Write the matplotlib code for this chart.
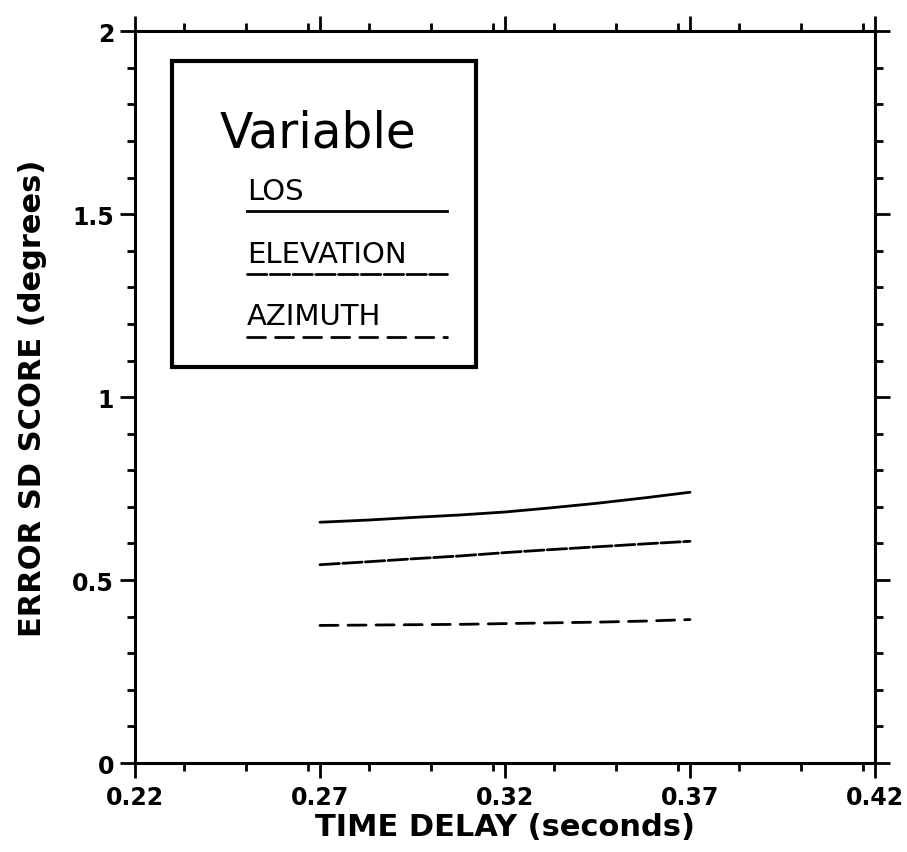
import matplotlib
matplotlib.use("Agg")
import matplotlib.pyplot as plt
from matplotlib.patches import Rectangle
from matplotlib.ticker import MultipleLocator

# =========================
# DATA
# =========================
delay = [0.27, 0.283, 0.295, 0.308, 0.32, 0.332, 0.345, 0.358, 0.37]
los = [0.658, 0.664, 0.671, 0.678, 0.686, 0.697, 0.710, 0.725, 0.740]
elevation = [0.542, 0.550, 0.558, 0.566, 0.575, 0.583, 0.591, 0.599, 0.606]
azimuth = [0.376, 0.377, 0.378, 0.379, 0.381, 0.383, 0.385, 0.388, 0.392]

series_names = ["LOS", "ELEVATION", "AZIMUTH"]
xticks = [0.22, 0.27, 0.32, 0.37, 0.42]
xticklabels = ["0.22", "0.27", "0.32", "0.37", "0.42"]
yticks = [0, 0.5, 1, 1.5, 2]
yticklabels = ["0", "0.5", "1", "1.5", "2"]

# =========================
# FIGURE
# =========================
fig = plt.figure(figsize=(9.07, 8.53), dpi=100)
ax = fig.add_axes([0.1488, 0.1043, 0.8159, 0.858])

lw = 2.0
styles = ["-", (0, (7, 1.2)), (0, (6.5, 3.6))]
for ys, ls in zip([los, elevation, azimuth], styles):
    ax.plot(delay, ys, color="black", lw=lw, linestyle=ls, solid_capstyle="round",
            dash_capstyle="round")

ax.set_xlim(0.22, 0.42)
ax.set_ylim(0, 2)
ax.set_xticks(xticks)
ax.set_xticklabels(xticklabels, fontsize=17, fontweight="bold")
ax.set_yticks(yticks)
ax.set_yticklabels(yticklabels, fontsize=17, fontweight="bold")
ax.xaxis.set_minor_locator(MultipleLocator(0.05 / 3))
ax.yaxis.set_minor_locator(MultipleLocator(0.1))

ax.tick_params(which="both", direction="out", top=True, right=True,
               labeltop=False, labelright=False, width=2, color="black")
ax.tick_params(which="major", length=11)
ax.tick_params(which="minor", length=6)
ax.tick_params(axis="x", pad=5)
ax.tick_params(axis="y", pad=4)
for s in ax.spines.values():
    s.set_linewidth(2.2)

ax.set_xlabel("TIME DELAY (seconds)", fontsize=22, fontweight="bold", labelpad=2)
ax.set_ylabel("ERROR SD SCORE (degrees)", fontsize=22, fontweight="bold", labelpad=18)

# =========================
# LEGEND BOX (hand drawn)
# =========================
ax.add_patch(Rectangle((0.050, 0.541), 0.411, 0.418, transform=ax.transAxes,
                       fill=False, lw=3, edgecolor="black"))
ax.text(0.247, 0.843, "Variable", transform=ax.transAxes, fontsize=35,
        ha="center", va="baseline")
text_y = [0.770, 0.684, 0.600]
line_y = [0.754, 0.668, 0.582]
for name, ty, ly, ls in zip(series_names, text_y, line_y, styles):
    ax.text(0.151, ty, name, transform=ax.transAxes, fontsize=21,
            ha="left", va="baseline")
    ax.plot([0.151, 0.422], [ly, ly], transform=ax.transAxes, color="black",
            lw=lw, linestyle=ls, dash_capstyle="round")

fig.savefig("out.png", dpi=100)
